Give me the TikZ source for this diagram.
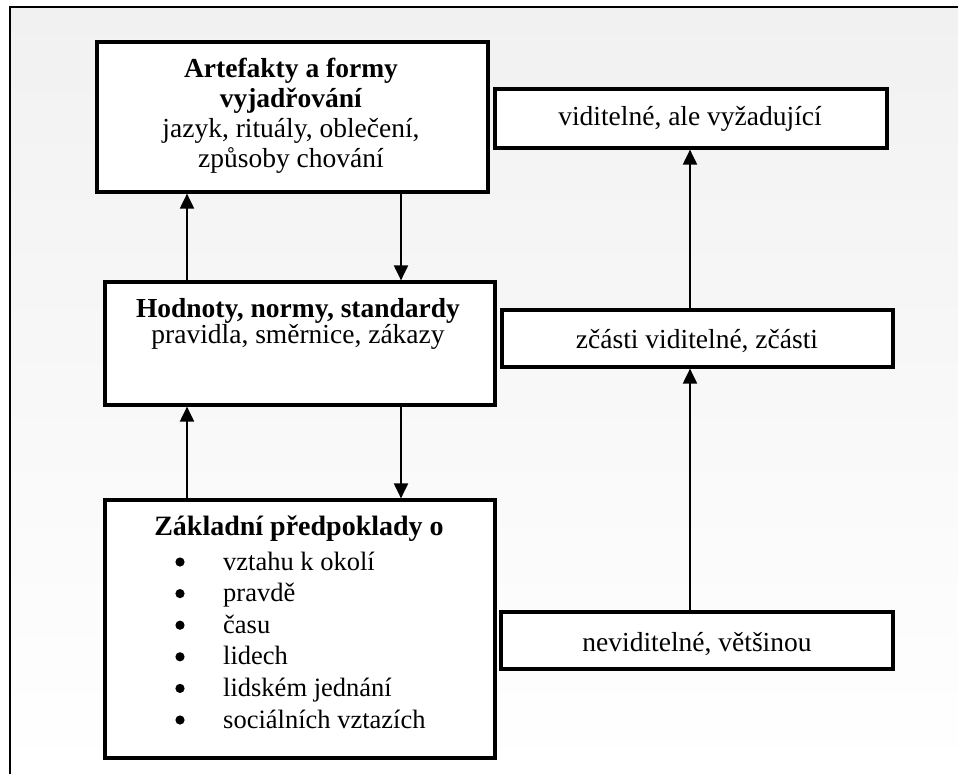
\documentclass[tikz,border=0pt]{standalone}
\usepackage{fontspec}
\setmainfont{Liberation Serif}
\newfontfamily\cam{Liberation Serif}
\usetikzlibrary{arrows.meta}
\begin{document}
\begin{tikzpicture}[x=1pt,y=-1pt,
  box/.style={draw=black, line width=3.2pt, fill=white, inner sep=0pt},
  arr/.style={line width=2pt, -{Triangle[width=14pt,length=15pt]}},
  camtext/.style={font=\cam\fontsize{27.5}{30}\selectfont, inner sep=0pt},
  camblock/.style={camtext, align=center},
  listtext/.style={font=\fontsize{26.5}{31.6}\selectfont, inner sep=0pt},
]
\useasboundingbox (0,0) rectangle (958,774);
\shade[top color={rgb,255:red,241;green,241;blue,241}, bottom color=white] (10,7) rectangle (958,774);
\draw[line width=1.5pt] (10,774) -- (10,7) -- (958,7);

% left column boxes
\node[box, minimum width=391pt, minimum height=150pt] (art) at (292.5,117) {};
\node[box, minimum width=390pt, minimum height=123pt] (val) at (300,343.5) {};
\node[box, minimum width=390pt, minimum height=258pt] (bas) at (300,629) {};

% right column boxes
\node[box, minimum width=392pt, minimum height=59pt] (vis) at (691,118.5) {};
\node[box, minimum width=391pt, minimum height=57pt] (mid) at (697.5,338.5) {};
\node[box, minimum width=392pt, minimum height=57pt] (inv) at (697,640.5) {};

% texts
\node[camblock] (artt) at (291,116) {\textbf{Artefakty a formy}\\\textbf{vyjadřování}\\jazyk, rituály, oblečení,\\způsoby chování};
\node[camtext, anchor=base] (valt1) at (298,317) {\textbf{Hodnoty, normy, standardy}};
\node[camtext, anchor=base] (valt2) at (298,343) {pravidla, směrnice, zákazy};
\node[font=\bfseries\fontsize{28}{32}\selectfont, inner sep=0pt, anchor=base] (bast) at (299,535) {Základní předpoklady o};
\foreach \t [count=\i from 0] in {vztahu k okolí, pravdě, času, lidech, lidském jednání, sociálních vztazích} {
  \fill (180,570+31.6*\i-8) circle (4.6pt);
  \node[listtext, anchor=base west] (l\i) at (223,570+31.6*\i) {\t};
}
\node[camtext, anchor=base] (vist) at (690,125) {viditelné, ale vyžadující};
\node[camtext, anchor=base] (midt) at (697,348) {zčásti viditelné, zčásti};
\node[camtext, anchor=base] (invt) at (697,651) {neviditelné, většinou};

% connectors
\coordinate (u) at (187,0);
\coordinate (d) at (401,0);
\coordinate (r) at (690,0);
\draw[arr] (u |- val.north) -- (u |- art.south);
\draw[arr] (d |- art.south) -- (d |- val.north);
\draw[arr] (u |- bas.north) -- (u |- val.south);
\draw[arr] (d |- val.south) -- (d |- bas.north);
\draw[arr] (r |- mid.north) -- (r |- vis.south);
\draw[arr] (r |- inv.north) -- (r |- mid.south);
\end{tikzpicture}
\end{document}
